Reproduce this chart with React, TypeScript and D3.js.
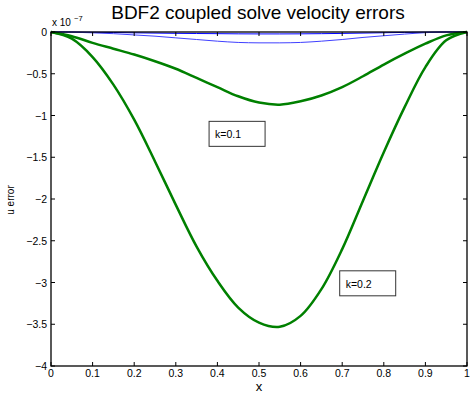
import React from "react";
import * as d3 from "d3";

const xs = [0, 0.05, 0.1, 0.15, 0.2, 0.25, 0.3, 0.35, 0.4, 0.45, 0.5, 0.55, 0.6, 0.65, 0.7, 0.75, 0.8, 0.85, 0.9, 0.95, 1.0];
const greenK02 = [0, -0.08, -0.3, -0.63, -1.05, -1.55, -2.07, -2.57, -2.98, -3.3, -3.48, -3.53, -3.4, -3.08, -2.6, -2.02, -1.44, -0.9, -0.42, -0.1, 0];
const greenK01 = [0, -0.05, -0.13, -0.2, -0.27, -0.35, -0.44, -0.55, -0.66, -0.77, -0.845, -0.87, -0.83, -0.76, -0.66, -0.53, -0.39, -0.26, -0.14, -0.04, 0];
const blueLow = [0, -0.002, -0.01, -0.02, -0.035, -0.05, -0.07, -0.09, -0.11, -0.125, -0.13, -0.13, -0.125, -0.11, -0.09, -0.065, -0.045, -0.025, -0.008, 0, 0];
const blueHigh = [0, 0, -0.003, -0.006, -0.01, -0.013, -0.016, -0.018, -0.02, -0.022, -0.023, -0.023, -0.022, -0.02, -0.017, -0.013, -0.009, -0.005, -0.002, 0, 0];
const xTicks = [0, 0.1, 0.2, 0.3, 0.4, 0.5, 0.6, 0.7, 0.8, 0.9, 1];
const yTicks = [0, -0.5, -1, -1.5, -2, -2.5, -3, -3.5, -4];
const annotations = [
  { label: "k=0.1", x: 0.38, y: -1.07 },
  { label: "k=0.2", x: 0.694, y: -2.86 },
];

const W = 470, H = 399;
const L = 51, R = 467, T = 32, B = 366;
const font = "'Liberation Sans', Arial, Helvetica, sans-serif";

export default function App() {
  const x = d3.scaleLinear().domain([0, 1]).range([L, R]);
  const y = d3.scaleLinear().domain([-4, 0]).range([B, T]);
  const line = d3.line<number>().x((_, i) => x(xs[i])).y((d) => y(d)).curve(d3.curveCatmullRom.alpha(0.5));
  const fmt = (v: number) => (v < 0 ? "\u2212" + String(-v) : String(v));
  return (
    <svg width={W} height={H} style={{ position: "absolute", left: 0, top: 0, background: "#fff" }} fontFamily={font}>
      <rect x={0} y={0} width={W} height={H} fill="#fff" />
      <path d={line(blueHigh) || ""} fill="none" stroke="#0000ff" strokeWidth={1} />
      <path d={line(blueLow) || ""} fill="none" stroke="#4040ff" strokeWidth={1} />
      <path d={line(greenK01) || ""} fill="none" stroke="#008000" strokeWidth={2.5} />
      <path d={line(greenK02) || ""} fill="none" stroke="#008000" strokeWidth={2.5} />
      <rect x={L} y={T} width={R - L} height={B - T} fill="none" stroke="#000" strokeWidth={1.3} />
      {xTicks.map((t) => (
        <g key={"x" + t}>
          <line x1={x(t)} x2={x(t)} y1={B} y2={B - 4} stroke="#000" />
          <line x1={x(t)} x2={x(t)} y1={T} y2={T + 4} stroke="#000" />
          <text x={x(t)} y={377} fontSize={10.5} textAnchor="middle">{String(t)}</text>
        </g>
      ))}
      {yTicks.map((t) => (
        <g key={"y" + t}>
          <line x1={L} x2={L + 4} y1={y(t)} y2={y(t)} stroke="#000" />
          <line x1={R} x2={R - 4} y1={y(t)} y2={y(t)} stroke="#000" />
          <text x={47} y={y(t) + 4} fontSize={10.5} textAnchor="end">{fmt(t)}</text>
        </g>
      ))}
      <text x={52} y={26} fontSize={10}>x 10</text>
      <text x={74} y={21} fontSize={7.5}>{"\u22127"}</text>
      <text x={258} y={19} fontSize={19} textAnchor="middle">BDF2 coupled solve velocity errors</text>
      <text x={259} y={391} fontSize={13} textAnchor="middle">x</text>
      <text transform={`translate(14,200) rotate(-90)`} fontSize={10} textAnchor="middle">u error</text>
      {annotations.map((a) => (
        <g key={a.label}>
          <rect x={x(a.x)} y={y(a.y)} width={56} height={25} fill="#fff" stroke="#333" strokeWidth={1} />
          <text x={x(a.x) + 6} y={y(a.y) + 17} fontSize={10.5}>{a.label}</text>
        </g>
      ))}
    </svg>
  );
}
